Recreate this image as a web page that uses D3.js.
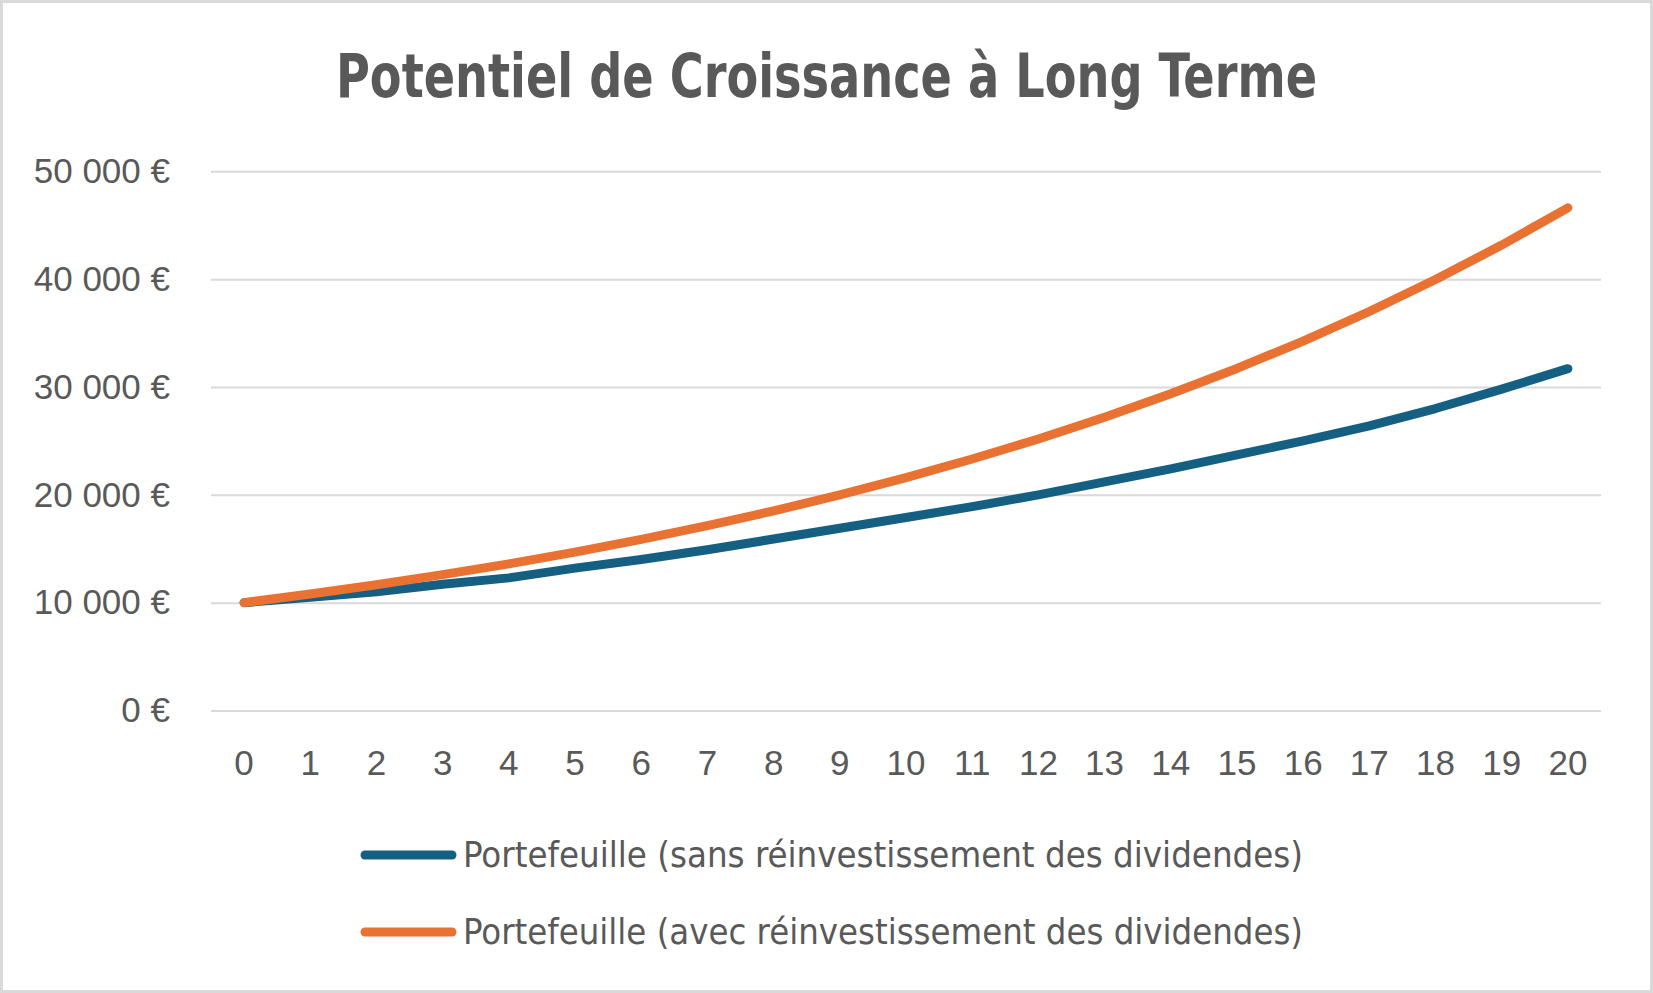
<!DOCTYPE html>
<html><head><meta charset="utf-8">
<script src="https://cdn.jsdelivr.net/npm/d3@7"></script>
<style>html,body{margin:0;padding:0;background:#fff;} svg{display:block}</style>
</head><body>
<svg id="c" width="1653" height="993"></svg>
<script>
// ---- data ----
const years = [0,1,2,3,4,5,6,7,8,9,10,11,12,13,14,15,16,17,18,19,20];
const sansReinvest = [10000,10500,11000,11700,12300,13200,14000,14900,15900,16900,17900,18900,20000,21200,22400,23700,25000,26400,28000,29800,31700];
const avecReinvest = [10000,10800,11660,12600,13600,14690,15870,17140,18510,19990,21590,23320,25180,27200,29370,31720,34260,37000,39960,43160,46610];
const yTicks = [0,10000,20000,30000,40000,50000];
const seriesNames = ["Portefeuille (sans réinvestissement des dividendes)","Portefeuille (avec réinvestissement des dividendes)"];
const seriesColors = ["#156082","#E97132"];
const titleText = "Potentiel de Croissance à Long Terme";

// ---- chart ----
const W = 1653, H = 993;
const svg = d3.select("#c");
const textColor = "#595959";
const narrow = "'Liberation Sans Narrow','Arial Narrow','DejaVu Sans Condensed','Liberation Sans',sans-serif";
const regular = "'Liberation Sans',Arial,sans-serif";

svg.append("rect").attr("x",1.5).attr("y",1.5).attr("width",W-3).attr("height",H-3)
  .attr("fill","#fff").attr("stroke","#d9d9d9").attr("stroke-width",3);

const x = d3.scaleBand().domain(years).range([211,1601]).padding(0);
const y = d3.scaleLinear().domain([0,50000]).range([710.5,171.3]);

const fmt = d => d3.format(",")(d).replace(/,/g," ") + " €";

const yAxis = svg.append("g").attr("transform","translate(211,0)")
  .call(d3.axisLeft(y).tickValues(yTicks).tickSize(-(1601-211)).tickPadding(41).tickFormat(fmt));
yAxis.select(".domain").remove();
yAxis.selectAll(".tick line").attr("stroke","#d9d9d9").attr("stroke-width",2);
yAxis.selectAll(".tick text").attr("fill",textColor).style("font-family",regular).style("font-size","35px");

const xAxis = svg.append("g").attr("transform","translate(0,710.5)")
  .call(d3.axisBottom(x).tickSize(0).tickPadding(40));
xAxis.select(".domain").remove();
xAxis.selectAll(".tick text").attr("fill",textColor).style("font-family",regular).style("font-size","35px");

const line = d3.line()
  .x((d,i) => x(years[i]) + x.bandwidth()/2)
  .y(d => y(d));

[sansReinvest, avecReinvest].forEach((s,k) => {
  svg.append("path").datum(s).attr("d",line)
    .attr("fill","none").attr("stroke",seriesColors[k]).attr("stroke-width",9)
    .attr("stroke-linecap","round").attr("stroke-linejoin","round");
});

// title
svg.append("text").attr("x",826.5).attr("y",97).attr("text-anchor","middle")
  .attr("fill",textColor).style("font-family",narrow).style("font-weight","bold")
  .style("font-size","60px").attr("textLength",981).attr("lengthAdjust","spacingAndGlyphs")
  .text(titleText);

// legend
const legendRows = [855, 932];
seriesNames.forEach((n,k) => {
  const g = svg.append("g");
  g.append("line").attr("x1",365).attr("x2",452).attr("y1",legendRows[k]).attr("y2",legendRows[k])
    .attr("stroke",seriesColors[k]).attr("stroke-width",9).attr("stroke-linecap","round");
  g.append("text").attr("x",463).attr("y",legendRows[k]+12).attr("fill",textColor)
    .style("font-family",narrow).style("font-size","36px")
    .attr("textLength",840).attr("lengthAdjust","spacingAndGlyphs").text(n);
});
</script>
</body></html>
